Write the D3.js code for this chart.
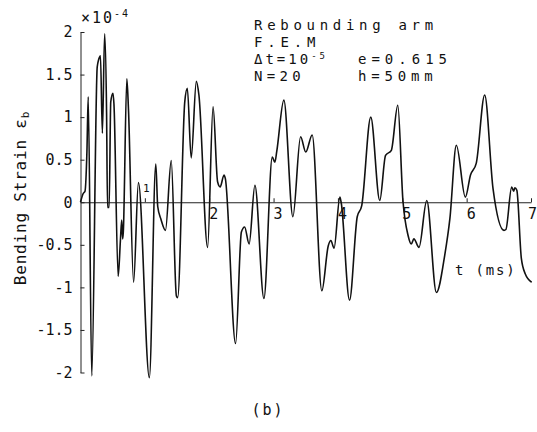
<!DOCTYPE html>
<html>
<head>
<meta charset="utf-8">
<script src="https://cdn.jsdelivr.net/npm/d3@7"></script>
<style>
  html, body { margin: 0; padding: 0; background: #fff; }
  svg { display: block; }
  text { font-family: "DejaVu Sans Mono", monospace; fill: #111; }
  .axis path, .axis line { stroke: #222; stroke-width: 1; }
</style>
</head>
<body>
<svg id="chart" width="537" height="432"></svg>
<script>
// Bending strain (x 10^-4) of the rebounding arm, F.E.M. solution
const timeMs = [
  0.00, 0.04, 0.07, 0.10, 0.12, 0.175, 0.26, 0.30, 0.31, 0.34,
  0.375, 0.405, 0.42, 0.445, 0.47, 0.505, 0.52, 0.585, 0.62, 0.64,
  0.655, 0.665, 0.72, 0.745, 0.825, 0.90, 1.07, 1.17, 1.20, 1.25,
  1.32, 1.41, 1.49, 1.51, 1.62, 1.66, 1.72, 1.80, 1.84, 1.975,
  2.06, 2.13, 2.17, 2.23, 2.25, 2.41, 2.50, 2.55, 2.62, 2.71,
  2.85, 2.98, 3.02, 3.05, 3.16, 3.30, 3.42, 3.50, 3.60, 3.75,
  3.85, 3.89, 3.94, 4.03, 4.05, 4.18, 4.30, 4.37, 4.51, 4.65,
  4.74, 4.83, 4.93, 5.01, 5.09, 5.14, 5.18, 5.26, 5.38, 5.53,
  5.66, 5.74, 5.84, 5.98, 6.06, 6.15, 6.28, 6.41, 6.58, 6.61,
  6.70, 6.73, 6.75, 6.78, 6.85, 6.91, 7.01
];
const strain = [
  0.00, 0.10, 0.13, 0.60, 1.24, -2.04, 1.59, 1.71, 1.72, 0.81,
  1.98, 1.06, -0.06, -0.06, 1.18, 1.28, 1.15, -0.87, -0.45, -0.21,
  -0.43, -0.35, 1.45, 1.10, -0.94, 0.23, -2.06, 0.45, -0.05, -0.20,
  -0.33, 0.49, -1.10, -1.12, 1.18, 1.34, 0.52, 1.42, 1.26, -0.53,
  1.12, 0.24, 0.18, 0.32, 0.28, -1.66, -0.35, -0.29, -0.49, 0.20,
  -1.13, 0.53, 0.47, 0.60, 1.20, -0.17, 0.77, 0.59, 0.79, -1.04,
  -0.51, -0.45, -0.54, 0.06, 0.00, -1.15, -0.17, -0.04, 1.00, 0.02,
  0.55, 0.61, 1.14, 0.02, -0.39, -0.49, -0.43, -0.53, 0.02, -1.06,
  -0.62, -0.19, 0.67, 0.06, 0.32, 0.46, 1.26, 0.16, -0.33, -0.32,
  0.18, 0.13, 0.17, 0.14, -0.66, -0.84, -0.94
];

const yTicks = [-2, -1.5, -1, -0.5, 0, 0.5, 1, 1.5, 2];
const yTickLabels = ["-2", "-1.5", "-1", "-0.5", "0", "0.5", "1", "1.5", "2"];
const xTicks = [1, 2, 3, 4, 5, 6, 7];
const xTickLabels = ["1", "2", "3", "4", "5", "6", "7"];

const svg = d3.select("#chart");

const x = d3.scaleLinear().domain([0, 7]).range([80.5, 531]);
const y = d3.scaleLinear().domain([-2, 2]).range([372.5, 32]);

// vertical axis: inward ticks, labels on the left
const yAxis = d3.axisLeft(y)
  .tickValues(yTicks)
  .tickFormat((d, i) => yTickLabels[i])
  .tickSizeInner(-4)
  .tickSizeOuter(0)
  .tickPadding(8);

svg.append("g")
  .attr("class", "axis")
  .attr("transform", `translate(${x(0)},0)`)
  .call(yAxis)
  .call(g => g.selectAll("text")
    .attr("font-family", "DejaVu Sans Mono")
    .attr("font-size", 15)
    .attr("fill", "#111"));

// time axis along the zero line, ticks pointing up
const xAxis = d3.axisBottom(x)
  .tickValues(xTicks)
  .tickFormat((d, i) => xTickLabels[i])
  .tickSizeInner(-4)
  .tickSizeOuter(0)
  .tickPadding(6);

const gx = svg.append("g")
  .attr("class", "axis")
  .attr("transform", `translate(0,${y(0)})`)
  .call(xAxis);

gx.selectAll("text")
  .attr("font-family", "DejaVu Sans Mono")
  .attr("font-size", 15)
  .attr("fill", "#111")
  .attr("dx", d => d === 7 ? 1 : 4);

// the "1" mark sits just above the line, in a smaller face
gx.selectAll(".tick").filter(d => d === 1).select("text")
  .attr("font-size", 11)
  .attr("dx", 1)
  .attr("y", -18)
  .attr("dy", "0.71em");

// strain history
const line = d3.line()
  .x((d, i) => x(timeMs[i]))
  .y(d => y(d))
  .curve(d3.curveMonotoneX);

svg.append("path")
  .datum(strain)
  .attr("fill", "none")
  .attr("stroke", "#111")
  .attr("stroke-width", 1.6)
  .attr("stroke-linejoin", "round")
  .attr("d", line);

// scale factor above the vertical axis
const mult = svg.append("text")
  .attr("x", 81)
  .attr("y", 23)
  .attr("font-size", 15)
  .attr("letter-spacing", 2);
mult.append("tspan").text("×10");
mult.append("tspan").attr("font-size", 10).attr("dy", -6).text("-4");

// axis titles
const yTitle = svg.append("text")
  .attr("transform", "translate(26,198) rotate(-90)")
  .attr("text-anchor", "middle")
  .attr("font-size", 16)
  .attr("letter-spacing", 0.8);
yTitle.append("tspan").text("Bending Strain ε");
yTitle.append("tspan").attr("font-size", 11).attr("dy", 3).text("b");

svg.append("text")
  .attr("x", 455)
  .attr("y", 275)
  .attr("font-size", 14)
  .attr("letter-spacing", 1.8)
  .text("t (ms)");

// case description
const noteX = 254, noteX2 = 358;
svg.append("text").attr("x", noteX).attr("y", 30)
  .attr("font-size", 14).attr("letter-spacing", 4.7).text("Rebounding arm");
svg.append("text").attr("x", noteX).attr("y", 47)
  .attr("font-size", 14).attr("letter-spacing", 4.8).text("F.E.M");
const dt = svg.append("text").attr("x", noteX).attr("y", 64)
  .attr("font-size", 14).attr("letter-spacing", 3.0);
dt.append("tspan").text("Δt=10");
dt.append("tspan").attr("font-size", 9).attr("dy", -5).text("-5");
svg.append("text").attr("x", noteX2).attr("y", 64)
  .attr("font-size", 14).attr("letter-spacing", 5.0).text("e=0.615");
svg.append("text").attr("x", noteX).attr("y", 81)
  .attr("font-size", 14).attr("letter-spacing", 4.3).text("N=20");
svg.append("text").attr("x", noteX2).attr("y", 81)
  .attr("font-size", 14).attr("letter-spacing", 4.8).text("h=50mm");

// panel caption
svg.append("text")
  .attr("x", 268)
  .attr("y", 415)
  .attr("text-anchor", "middle")
  .attr("font-size", 15)
  .attr("letter-spacing", 2)
  .text("(b)");
</script>
</body>
</html>
